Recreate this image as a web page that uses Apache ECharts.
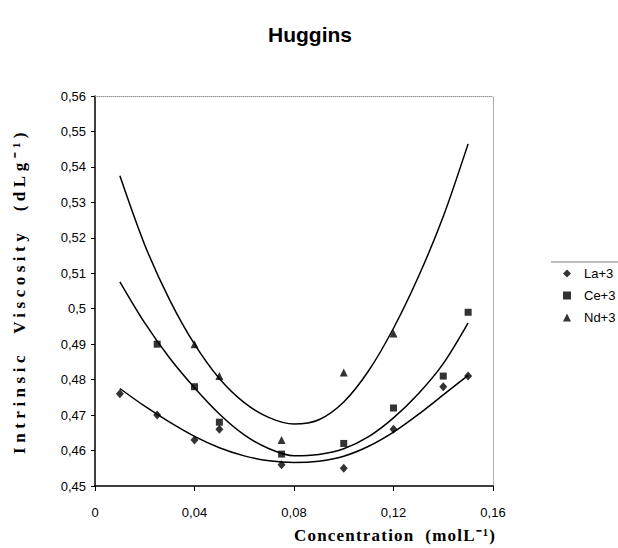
<!DOCTYPE html>
<html>
<head>
<meta charset="utf-8">
<script src="https://cdn.jsdelivr.net/npm/echarts@6/dist/echarts.min.js"></script>
<style>html,body{margin:0;padding:0;background:#fff}#c{width:618px;height:548px}</style>
</head>
<body>
<div id="c"></div>
<script>
// Measured points
var laX = [0.01, 0.025, 0.04, 0.05, 0.075, 0.10, 0.12, 0.14, 0.15];
var laY = [0.476, 0.470, 0.463, 0.466, 0.456, 0.455, 0.466, 0.478, 0.481];
var ceX = [0.025, 0.04, 0.05, 0.075, 0.10, 0.12, 0.14, 0.15];
var ceY = [0.490, 0.478, 0.468, 0.459, 0.462, 0.472, 0.481, 0.499];
var ndX = [0.04, 0.05, 0.075, 0.10, 0.12];
var ndY = [0.490, 0.481, 0.463, 0.482, 0.493];
// Trend curves
var fitX  = [0.01, 0.02, 0.03, 0.04, 0.05, 0.06, 0.07, 0.08, 0.09, 0.10, 0.11, 0.12, 0.13, 0.14, 0.15];
var laFit = [0.4775, 0.4725, 0.4680, 0.4640, 0.4608, 0.4585, 0.4571, 0.4566, 0.4570, 0.4584, 0.4612, 0.4652, 0.4702, 0.4757, 0.4812];
var ceFit = [0.5076, 0.4960, 0.4861, 0.4777, 0.4703, 0.4644, 0.4605, 0.4585, 0.4589, 0.4605, 0.4639, 0.4692, 0.4760, 0.4845, 0.4960];
var ndFit = [0.5375, 0.5180, 0.5025, 0.4900, 0.4803, 0.4735, 0.4693, 0.4675, 0.4687, 0.4737, 0.4825, 0.4945, 0.5090, 0.5260, 0.5465];
var seriesNames = ['La+3', 'Ce+3', 'Nd+3'];
var xName = 'Concentration  (molL\u207B\u00B9)';
var yName = 'Intrinsic  Viscosity  (dLg\u207B\u00B9)';

function pairs(xs, ys) { return xs.map(function (x, i) { return [x, ys[i]]; }); }
function fmt(v) { return String(Math.round(v * 100) / 100).replace('.', ','); }

var chart = echarts.init(document.getElementById('c'), null, { renderer: 'svg' });
var sans = 'Liberation Sans, Arial, sans-serif';
var serif = 'Liberation Serif, Times New Roman, serif';
var SMOOTH = 0.3;

chart.setOption({
  animation: false,
  backgroundColor: '#fff',
  title: [
    { text: 'Huggins', left: 305, top: 19, textAlign: 'center',
      textStyle: { fontFamily: sans, fontSize: 21, fontWeight: 'bold', color: '#000' } },
    { text: xName, left: 289, top: 522,
      textStyle: { fontFamily: serif, fontSize: 17, fontWeight: 'bold', color: '#000' } }
  ],
  legend: {
    orient: 'vertical', left: 558, top: 264,
    data: seriesNames,
    itemWidth: 8, itemHeight: 8, itemGap: 9,
    padding: [3, 5, 3, 5],
    textStyle: { fontFamily: sans, fontSize: 13, color: '#000', padding: [0, 0, 0, 8] }
  },
  graphic: [
    { type: 'line', shape: { x1: 551, y1: 262, x2: 618, y2: 262 }, style: { stroke: '#777', lineWidth: 1 } }
  ],
  grid: { left: 95, right: 125, top: 96, bottom: 62 },
  xAxis: [
    { type: 'value', min: 0, max: 0.16, interval: 0.04,
      axisLine: { show: true, onZero: false, lineStyle: { color: '#000', width: 1.5 } },
      axisTick: { show: true, length: 5, lineStyle: { color: '#000' } },
      axisLabel: { formatter: fmt, margin: 20, fontFamily: sans, fontSize: 13, color: '#000' },
      splitLine: { show: false } },
    { type: 'value', position: 'top', min: 0, max: 0.16,
      axisLine: { show: true, onZero: false, lineStyle: { color: '#999', type: 'dotted', width: 1 } },
      axisTick: { show: false }, axisLabel: { show: false }, splitLine: { show: false } }
  ],
  yAxis: [
    { type: 'value', min: 0.45, max: 0.56, interval: 0.01,
      name: yName,
      nameLocation: 'middle', nameGap: 67, nameRotate: 90,
      nameTextStyle: { fontFamily: serif, fontSize: 17, fontWeight: 'bold', color: '#000' },
      axisLine: { show: true, onZero: false, lineStyle: { color: '#000', width: 1.5 } },
      axisTick: { show: true, length: 4, lineStyle: { color: '#000' } },
      axisLabel: { formatter: fmt, margin: 9, fontFamily: sans, fontSize: 13, color: '#000' },
      splitLine: { show: false } },
    { type: 'value', position: 'right', min: 0.45, max: 0.56,
      axisLine: { show: true, onZero: false, lineStyle: { color: '#999', type: 'dotted', width: 1 } },
      axisTick: { show: false }, axisLabel: { show: false }, splitLine: { show: false } }
  ],
  series: [
    { name: 'La+3 fit', type: 'line', data: pairs(fitX, laFit), smooth: SMOOTH, showSymbol: false,
      lineStyle: { color: '#000', width: 1.5 }, silent: true },
    { name: 'Ce+3 fit', type: 'line', data: pairs(fitX, ceFit), smooth: SMOOTH, showSymbol: false,
      lineStyle: { color: '#000', width: 1.5 }, silent: true },
    { name: 'Nd+3 fit', type: 'line', data: pairs(fitX, ndFit), smooth: SMOOTH, showSymbol: false,
      lineStyle: { color: '#000', width: 1.5 }, silent: true },
    { name: seriesNames[0], type: 'scatter', data: pairs(laX, laY), symbol: 'diamond', symbolSize: [8, 9],
      itemStyle: { color: '#000' } },
    { name: seriesNames[1], type: 'scatter', data: pairs(ceX, ceY), symbol: 'rect', symbolSize: 7,
      itemStyle: { color: '#000' } },
    { name: seriesNames[2], type: 'scatter', data: pairs(ndX, ndY), symbol: 'triangle', symbolSize: 8,
      itemStyle: { color: '#000' } }
  ]
});

// The scanned original uses letter-spaced axis titles
function spaceOut() {
  var texts = document.querySelectorAll('#c svg text');
  for (var i = 0; i < texts.length; i++) {
    var s = texts[i].textContent || '';
    if (s.indexOf('Intrinsic') === 0) texts[i].style.letterSpacing = '4.5px';
    if (s.indexOf('Concentration') === 0) texts[i].style.letterSpacing = '1.2px';
  }
}
spaceOut();
chart.on('finished', spaceOut);
setTimeout(spaceOut, 0);
</script>
</body>
</html>
